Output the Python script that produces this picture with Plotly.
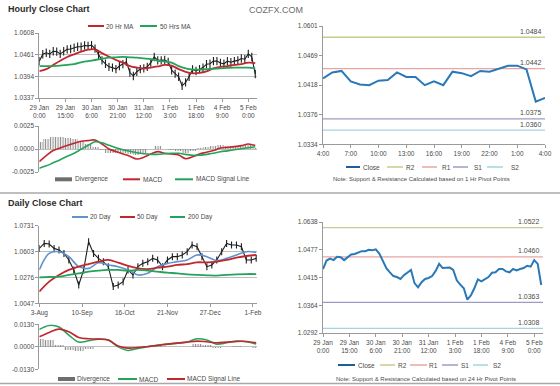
import plotly.graph_objects as go

# ---------------- DATA ----------------
# Hourly section (29 Jan 0:00 -> 5 Feb ~4:00), sampled every 2 h / 4 h
hourly_tick_labels = ["29 Jan<br>0:00", "29 Jan<br>15:00", "30 Jan<br>6:00", "30 Jan<br>21:00",
                      "31 Jan<br>12:00", "1 Feb<br>3:00", "1 Feb<br>18:00", "4 Feb<br>9:00", "5 Feb<br>0:00"]
hourly_tick_hours = [0, 15, 30, 45, 60, 75, 90, 105, 120]

hourly_close = [1.0434, 1.0452, 1.0456, 1.0453, 1.0460, 1.0459, 1.0453, 1.0460, 1.0465, 1.0466,
                1.0469, 1.0472, 1.0472, 1.0475, 1.0474, 1.0476, 1.0467, 1.0450, 1.0436, 1.0427,
                1.0419, 1.0417, 1.0413, 1.0421, 1.0426, 1.0432, 1.0404, 1.0395, 1.0406, 1.0413,
                1.0415, 1.0419, 1.0430, 1.0445, 1.0436, 1.0436, 1.0437, 1.0432, 1.0410, 1.0401,
                1.0393, 1.0369, 1.0378, 1.0393, 1.0412, 1.0408, 1.0413, 1.0417, 1.0426, 1.0427,
                1.0434, 1.0434, 1.0429, 1.0427, 1.0434, 1.0431, 1.0434, 1.0436, 1.0441, 1.0439,
                1.0453, 1.0445, 1.0400]
ma20_hr = [1.0408, 1.0413, 1.0424, 1.0435, 1.0445, 1.0452, 1.0459, 1.0464, 1.0465, 1.0455,
           1.0446, 1.0437, 1.0430, 1.0421, 1.0417, 1.0415, 1.0417, 1.0420, 1.0424, 1.0422,
           1.0413, 1.0406, 1.0402, 1.0403, 1.0407, 1.0415, 1.0419, 1.0421, 1.0424, 1.0426,
           1.0430, 1.0429]
ma50_hr = [1.0421, 1.0421, 1.0421, 1.0422, 1.0424, 1.0426, 1.0431, 1.0434, 1.0437, 1.0440,
           1.0443, 1.0444, 1.0445, 1.0444, 1.0443, 1.0441, 1.0439, 1.0435, 1.0433, 1.0430,
           1.0421, 1.0415, 1.0412, 1.0412, 1.0413, 1.0414, 1.0415, 1.0416, 1.0417, 1.0417,
           1.0417, 1.0415]
macd_hr = [-0.00137, -0.00072, -0.00017, 0.00011, 0.00037, 0.00062, 0.00084, 0.00091, 0.00098, 0.00054,
           0.0, -0.00028, -0.00054, -0.00079, -0.00109, -0.0009, -0.00054, -0.00028, -0.00047, -0.00054,
           -0.00065, -0.00105, -0.00085, -0.00054, -0.00036, -0.00017, 0.00011, 0.00018, 0.00026, 0.00037,
           0.00054, 0.00037]
signal_hr = [-0.0021, -0.00183, -0.0015, -0.00117, -0.00079, -0.00047, -0.00003, 0.0004, 0.00078, 0.00067,
             0.0004, 0.00013, -0.00009, -0.00025, -0.00041, -0.00052, -0.00058, -0.00058, -0.00052, -0.00047,
             -0.00047, -0.00058, -0.00068, -0.00068, -0.00058, -0.00047, -0.0003, -0.0002, -0.00009, 0.00002,
             0.00013, 0.00024]
hr_price_ticktext = ["1.0337", "1.0394", "1.0461", "1.0608"]
hr_macd_ticktext = ["-0.0025", "0.0000", "0.0025"]

# Last 24 hours (1 h pivot chart)
last24_labels = ["4:00", "7:00", "10:00", "13:00", "16:00", "19:00", "22:00", "1:00", "4:00"]
last24_close = [1.0429, 1.0437, 1.0439, 1.0425, 1.0421, 1.0420, 1.0426, 1.0427, 1.0437, 1.0431,
                1.0431, 1.0420, 1.0425, 1.0420, 1.0438, 1.0436, 1.0432, 1.0439, 1.0438, 1.0442,
                1.0446, 1.0446, 1.0441, 1.0398, 1.0403]
pivot_1h = {"R2": 1.0484, "R1": 1.0442, "S1": 1.0375, "S2": 1.0360}
p1h_ticktext = ["1.0334", "1.0376", "1.0418", "1.0469", "1.0601"]

# Daily section (3-Aug -> 1-Feb), close every 3 days, MAs/MACD every 6 days
daily_tick_labels = ["3-Aug", "10-Sep", "16-Oct", "21-Nov", "27-Dec", "1-Feb"]
daily_tick_idx = [0, 26, 52, 78, 104, 130]
daily_close = [1.0531, 1.0575, 1.0570, 1.0531, 1.0517, 1.0487, 1.0429, 1.0341, 1.0208, 1.0341,
               1.0590, 1.0487, 1.0443, 1.0414, 1.0370, 1.0194, 1.0208, 1.0238, 1.0341, 1.0297,
               1.0370, 1.0399, 1.0414, 1.0443, 1.0429, 1.0370, 1.0429, 1.0458, 1.0458, 1.0473,
               1.0502, 1.0561, 1.0546, 1.0458, 1.0370, 1.0385, 1.0429, 1.0502, 1.0575, 1.0561,
               1.0561, 1.0546, 1.0429, 1.0429, 1.0443]
ma20_d = [1.0341, 1.0487, 1.0502, 1.0458, 1.0370, 1.0355, 1.0405, 1.0385, 1.0370, 1.0341,
          1.0297, 1.0311, 1.0370, 1.0399, 1.0414, 1.0429, 1.0473, 1.0458, 1.0423, 1.0443,
          1.0473, 1.0502, 1.0496]
ma50_d = [1.0150, 1.0238, 1.0297, 1.0341, 1.0370, 1.0393, 1.0414, 1.0429, 1.0405, 1.0376,
          1.0355, 1.0349, 1.0361, 1.0370, 1.0385, 1.0393, 1.0408, 1.0408, 1.0414, 1.0429,
          1.0449, 1.0464, 1.0473]
ma200_d = [1.0276, 1.0279, 1.0282, 1.0297, 1.0311, 1.0326, 1.0335, 1.0341, 1.0341, 1.0335,
           1.0341, 1.0335, 1.0326, 1.0317, 1.0311, 1.0302, 1.0297, 1.0294, 1.0291, 1.0297,
           1.0302, 1.0305, 1.0305]
macd_d = [0.01004, 0.01235, 0.01139, 0.00676, 0.00272, 0.00349, 0.00445, 0.00387, 0.0, -0.0021,
          -0.00094, 0.0, 0.00098, 0.00156, 0.00214, 0.00272, 0.00464, 0.00387, 0.00156, 0.00233,
          0.0033, 0.00291, 0.00156]
signal_d = [0.0058, 0.00831, 0.01023, 0.00869, 0.00541, 0.00464, 0.00445, 0.00387, 0.0004, -0.00075,
            -0.00037, 0.00021, 0.00079, 0.00156, 0.00214, 0.00272, 0.0033, 0.00291, 0.00233, 0.00272,
            0.0031, 0.0031, 0.00233]
d_price_ticktext = ["1.0047", "1.0276", "1.0603", "1.0731"]
d_macd_ticktext = ["-0.0130", "0.0000", "0.0130"]

pivot_24h = {"R2": 1.0522, "R1": 1.0460, "S1": 1.0363, "S2": 1.0308}
p24_ticktext = ["1.0292", "1.0364", "1.0415", "1.0477", "1.0638"]

# ---------------- helpers ----------------
W, H = 560, 386
def px(x): return x / W
def py(y): return 1 - y / H

FONT = "Liberation Sans, Arial, sans-serif"
TXT = "#4a4a4a"
GRID = "#bdbdbd"
AX = "#9a9a9a"
BLACK = "#1e1e1e"
RED = "#c1272d"
GREEN = "#25a35a"
BLUE_MA = "#5f93cc"
CLOSE_BLUE = "#2a78b8"
PIV_COL = {"R2": "#c8cb8e", "R1": "#eaa4a4", "S1": "#9d9bc6", "S2": "#a2d5e4"}

hours2 = [2 * i for i in range(len(hourly_close))]
hours4 = [4 * i for i in range(len(ma20_hr))]
h24 = list(range(len(last24_close)))
d3 = [3 * i for i in range(len(daily_close))]
d6 = [6 * i for i in range(len(ma20_d))]
div_hr = [m - s for m, s in zip(macd_hr, signal_hr)]
div_d = [m - s for m, s in zip(macd_d, signal_d)]

def lin(a, b, n):
    return [a + (b - a) * i / (n - 1) for i in range(n)]

HATCH = dict(color="rgba(0,0,0,0)", line=dict(width=0),
             pattern=dict(shape="|", fgcolor="#8c8c8c", bgcolor="rgba(255,255,255,0)", size=2.5, solidity=0.45))

fig = go.Figure()

# --- panel 1: hourly price (x, y)
fig.add_trace(go.Scatter(x=hours2, y=hourly_close, mode="lines+markers",
                         line=dict(color=BLACK, width=1.1),
                         marker=dict(symbol="line-ns", size=6, line=dict(color=BLACK, width=1.1)),
                         xaxis="x", yaxis="y"))
fig.add_trace(go.Scatter(x=hours4, y=ma20_hr, mode="lines", line=dict(color=RED, width=1.8, shape="spline"),
                         xaxis="x", yaxis="y"))
fig.add_trace(go.Scatter(x=hours4, y=ma50_hr, mode="lines", line=dict(color=GREEN, width=1.8, shape="spline"),
                         xaxis="x", yaxis="y"))

# --- panel 2: hourly MACD (x2, y2)
fig.add_trace(go.Bar(x=hours4, y=div_hr, marker=HATCH, width=4, xaxis="x2", yaxis="y2"))
fig.add_trace(go.Scatter(x=hours4, y=macd_hr, mode="lines", line=dict(color=RED, width=1.6, shape="spline"),
                         xaxis="x2", yaxis="y2"))
fig.add_trace(go.Scatter(x=hours4, y=signal_hr, mode="lines", line=dict(color=GREEN, width=1.6, shape="spline"),
                         xaxis="x2", yaxis="y2"))

# --- panel 3: last 24h close with 1h pivots (x3, y3)
fig.add_trace(go.Scatter(x=h24, y=last24_close, mode="lines", line=dict(color=CLOSE_BLUE, width=2),
                         xaxis="x3", yaxis="y3"))

# --- panel 4: daily price (x4, y4)
fig.add_trace(go.Scatter(x=d3, y=daily_close, mode="lines+markers",
                         line=dict(color=BLACK, width=1.1),
                         marker=dict(symbol="line-ns", size=5, line=dict(color=BLACK, width=1.1)),
                         xaxis="x4", yaxis="y4"))
fig.add_trace(go.Scatter(x=d6, y=ma20_d, mode="lines", line=dict(color=BLUE_MA, width=1.6, shape="spline"),
                         xaxis="x4", yaxis="y4"))
fig.add_trace(go.Scatter(x=d6, y=ma50_d, mode="lines", line=dict(color=RED, width=1.8, shape="spline"),
                         xaxis="x4", yaxis="y4"))
fig.add_trace(go.Scatter(x=d6, y=ma200_d, mode="lines", line=dict(color=GREEN, width=1.8, shape="spline"),
                         xaxis="x4", yaxis="y4"))

# --- panel 5: daily MACD (x5, y5)
fig.add_trace(go.Bar(x=d6, y=div_d, marker=HATCH, width=6, xaxis="x5", yaxis="y5"))
fig.add_trace(go.Scatter(x=d6, y=macd_d, mode="lines", line=dict(color=GREEN, width=1.6, shape="spline"),
                         xaxis="x5", yaxis="y5"))
fig.add_trace(go.Scatter(x=d6, y=signal_d, mode="lines", line=dict(color=RED, width=1.6, shape="spline"),
                         xaxis="x5", yaxis="y5"))

# --- panel 6: hourly close with 24h pivots (x6, y6)
fig.add_trace(go.Scatter(x=hours2, y=hourly_close, mode="lines", line=dict(color=CLOSE_BLUE, width=2),
                         xaxis="x6", yaxis="y6"))

tickfont = dict(family=FONT, size=6.5, color=TXT)

def xax(dom, rng, **kw):
    d = dict(domain=dom, range=rng, showgrid=False, zeroline=False, showline=True, linecolor=AX,
             linewidth=1, ticks="outside", ticklen=3, tickcolor=AX, tickfont=tickfont, fixedrange=True,
             automargin=False)
    d.update(kw)
    return d

def yax(dom, rng, **kw):
    d = dict(domain=dom, range=rng, zeroline=False, showline=True, linecolor=AX, linewidth=1,
             ticks="outside", ticklen=3, tickcolor=AX, tickfont=tickfont, fixedrange=True,
             automargin=False)
    d.update(kw)
    return d

# ranges
r_hr = [1.0337, 1.0508]
r_d = [1.0047, 1.0731]
r_p1 = [1.0341, 1.0499]
r_p24 = [1.0298, 1.0534]

layout = dict(
    template="none",
    width=W, height=H, margin=dict(l=0, r=0, t=0, b=0, pad=0), autosize=False,
    paper_bgcolor="white", plot_bgcolor="white", showlegend=False, bargap=0,
    font=dict(family=FONT, size=7, color=TXT),
    xaxis=xax([px(39.3), px(257)], [0, 125], tickvals=hourly_tick_hours, ticktext=hourly_tick_labels),
    yaxis=yax([py(98), py(33)], r_hr, anchor="x", showgrid=True, gridcolor=GRID, gridwidth=1,
              tickvals=lin(r_hr[0], r_hr[1], 4), ticktext=hr_price_ticktext),
    xaxis2=xax([px(39.3), px(257)], [0, 125], anchor="y2", showline=False, ticks="", showticklabels=False),
    yaxis2=yax([py(172), py(126)], [-0.0025, 0.0025], anchor="x2", showgrid=True, gridcolor=GRID,
               tickvals=[-0.0025, 0, 0.0025], ticktext=hr_macd_ticktext),
    xaxis3=xax([px(323), px(545)], [0, 24], anchor="y3", tickvals=list(range(0, 25, 3)), ticktext=last24_labels),
    yaxis3=yax([py(144.3), py(26)], r_p1, anchor="x3", showgrid=False,
               tickvals=lin(r_p1[0], r_p1[1], 5), ticktext=p1h_ticktext),
    xaxis4=xax([px(39.3), px(257)], [0, 132.5], anchor="y4", tickvals=daily_tick_idx, ticktext=daily_tick_labels),
    yaxis4=yax([py(303.3), py(225.7)], r_d, anchor="x4", showgrid=True, gridcolor=GRID,
               tickvals=lin(r_d[0], r_d[1], 4), ticktext=d_price_ticktext),
    xaxis5=xax([px(39.3), px(257)], [0, 132.5], anchor="y5", showline=False, ticks="", showticklabels=False),
    yaxis5=yax([py(369.3), py(324.3)], [-0.013, 0.013], anchor="x5", showgrid=True, gridcolor=GRID,
               tickvals=[-0.013, 0, 0.013], ticktext=d_macd_ticktext),
    xaxis6=xax([px(323), px(543)], [0, 125], anchor="y6", tickvals=hourly_tick_hours, ticktext=hourly_tick_labels),
    yaxis6=yax([py(333), py(222)], r_p24, anchor="x6", showgrid=False,
               tickvals=lin(r_p24[0], r_p24[1], 5), ticktext=p24_ticktext),
)
fig.update_layout(**layout)

shapes = []
annotations = []

def text(x, y, s, size=6.5, color=TXT, anchor="left", bold=False):
    annotations.append(dict(x=px(x), y=py(y), xref="paper", yref="paper", text=("<b>%s</b>" % s) if bold else s,
                            showarrow=False, xanchor=anchor, yanchor="middle", borderpad=0,
                            font=dict(family=FONT, size=size, color=color)))

def legline(x0, x1, y, color, width=2):
    shapes.append(dict(type="line", xref="paper", yref="paper", x0=px(x0), x1=px(x1), y0=py(y), y1=py(y),
                       line=dict(color=color, width=width)))

def legbox(x0, x1, y, color):
    shapes.append(dict(type="rect", xref="paper", yref="paper", x0=px(x0), x1=px(x1), y0=py(y + 2), y1=py(y - 2),
                       fillcolor=color, line=dict(width=0)))

# titles
text(7, 9.5, "Hourly Close Chart", size=9, color="#2b2b2b", bold=True)
text(248, 10, "COZFX.COM", size=9, color="#6b6b6b")
text(7, 202.5, "Daily Close Chart", size=9, color="#2b2b2b", bold=True)

# separators
for yy in (193, 383.5):
    shapes.append(dict(type="line", xref="paper", yref="paper", x0=0, x1=1, y0=py(yy), y1=py(yy),
                       line=dict(color="#a9a9a9", width=1.5)))

# legends: hourly price
legline(88, 104, 26, RED); text(105, 26, "20 Hr MA")
legline(140, 157, 26, GREEN); text(159, 26, "50 Hrs MA")
# hourly MACD
legbox(55, 72, 179.3, "#6e6e6e"); text(74, 179.3, "Divergence")
legline(123, 140, 179.3, RED); text(142, 179.3, "MACD")
legline(175, 193, 179.3, GREEN); text(195, 179.3, "MACD Signal Line")
# daily price
legline(72, 88, 217, BLUE_MA); text(89, 217, "20 Day")
legline(120, 135, 217, RED); text(136, 217, "50 Day")
legline(170, 185, 217, GREEN); text(187, 217, "200 Day")
# daily MACD
legbox(58, 75, 379, "#6e6e6e"); text(76, 379, "Divergence")
legline(118, 137, 379, GREEN); text(138, 379, "MACD")
legline(167, 185, 379, RED); text(186, 379, "MACD Signal Line")

# pivot legends
def pivot_legend(y, xs):
    (c0, c1, ct), (r20, r21, r2t), (r10, r11, r1t), (s10, s11, s1t), (s20, s21, s2t) = xs
    legline(c0, c1, y, "#1f5f99", 2); text(ct, y, "Close")
    legline(r20, r21, y, PIV_COL["R2"], 1.5); text(r2t, y, "R2")
    legline(r10, r11, y, PIV_COL["R1"], 1.5); text(r1t, y, "R1")
    legline(s10, s11, y, PIV_COL["S1"], 1.5); text(s1t, y, "S1")
    legline(s20, s21, y, PIV_COL["S2"], 1.5); text(s2t, y, "S2")

pivot_legend(167, [(346, 360, 362), (387, 403, 405), (422, 437, 441), (453, 468, 473), (487, 503, 510)])
text(421.7, 179, "Note: Support & Resistance Calculated based on 1 Hr Pivot Points", size=6, anchor="center")
pivot_legend(365, [(338, 355, 357), (380, 395, 397), (410, 427, 428), (442, 458, 460), (473, 488, 492)])
text(425.8, 378.5, "Note: Support & Resistance Calculated based on 24 Hr Pivot Points", size=6, anchor="center")

# pivot lines + labels
def pivots(pv, xaxis, yaxis, xr):
    for k, v in pv.items():
        shapes.append(dict(type="line", xref=xaxis + " domain", yref=yaxis, x0=0, x1=1, y0=v, y1=v,
                           line=dict(color=PIV_COL[k], width=1.3), layer="below"))
        annotations.append(dict(x=px(xr), y=v, xref="paper", yref=yaxis, text="%.4f" % v, showarrow=False,
                                xanchor="right", yanchor="middle", yshift=6, borderpad=0,
                                font=dict(family=FONT, size=7, color=TXT)))

pivots(pivot_1h, "x3", "y3", 543)
pivots(pivot_24h, "x6", "y6", 541)

fig.update_layout(shapes=shapes, annotations=annotations)
fig.write_html("out.html", config={"displayModeBar": False, "staticPlot": True},
               post_script="document.body.style.margin='0px';document.body.style.overflow='hidden';")
